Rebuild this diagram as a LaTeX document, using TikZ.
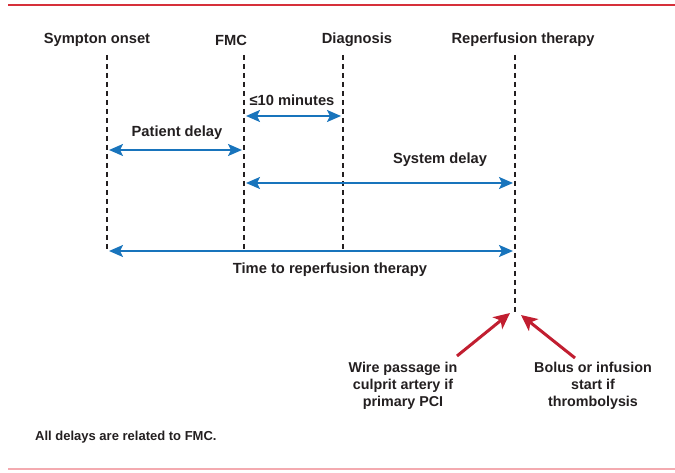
\documentclass[tikz,border=0pt]{standalone}
\usepackage{fontspec}
\setmainfont{Liberation Sans}
\usetikzlibrary{arrows.meta}
\definecolor{tlblue}{RGB}{24,116,188}
\definecolor{tlred}{RGB}{193,30,48}
\definecolor{rulered}{RGB}{214,48,58}
\definecolor{rulepink}{RGB}{244,170,176}
\definecolor{ink}{RGB}{35,31,32}
\begin{document}
\begin{tikzpicture}[x=1pt,y=-1pt,
  lbl/.style={font=\fontsize{14.7}{17}\selectfont\bfseries, text=ink, inner sep=0pt},
  sublbl/.style={lbl, align=center, font=\fontsize{14.3}{17.3}\selectfont\bfseries},
  guide/.style={draw=ink, line width=1.6pt, dash pattern=on 5pt off 4pt},
  span/.style={draw=tlblue, line width=2pt, {Stealth[length=14pt,width=12pt,inset=3pt]}-{Stealth[length=14pt,width=12pt,inset=3pt]}},
  hit/.style={draw=tlred, line width=3pt, -{Stealth[length=16pt,width=15pt,inset=4pt]}}]
\useasboundingbox (0,0) rectangle (675,473);
% frame rules
\draw[rulered, line width=1.5pt] (8,5) -- (675,5);
\draw[rulepink, line width=1.5pt] (8,469) -- (675,469);

% event headings
\node[lbl] (onset) at (97,40) {Sympton onset};
\node[lbl] (fmc) at (231,40) {FMC};
\node[lbl] (diag) at (357,40) {Diagnosis};
\node[lbl] (reperf) at (523,40) {Reperfusion therapy};

% timeline guides
\coordinate (onsetT) at (107,55);  \coordinate (onsetB) at (107,252);
\coordinate (fmcT) at (244,55);    \coordinate (fmcB) at (244,252);
\coordinate (diagT) at (343,55);   \coordinate (diagB) at (343,252);
\coordinate (repT) at (515,55);    \coordinate (repB) at (515,314);
\draw[guide] (onsetT) -- (onsetB);
\draw[guide] (fmcT) -- (fmcB);
\draw[guide] (diagT) -- (diagB);
\draw[guide] (repT) -- (repB);

% intervals
\coordinate (a1) at (246,116); \coordinate (b1) at (341,116);
\draw[span] (a1) -- (b1);
\node[lbl] (ten) at (292,100) {≤10 minutes};

\coordinate (a2) at (109,150); \coordinate (b2) at (242,150);
\draw[span] (a2) -- (b2);
\node[lbl] (pat) at (177,133) {Patient delay};

\coordinate (a3) at (246,183); \coordinate (b3) at (513,183);
\draw[span] (a3) -- (b3);
\node[lbl] (sys) at (440,160) {System delay};

\coordinate (a4) at (109,251); \coordinate (b4) at (513,251);
\draw[span] (a4) -- (b4);
\node[lbl] (total) at (330,270) {Time to reperfusion therapy};

% reperfusion markers
\node[sublbl] (pci) at (403,386) {Wire passage in\\culprit artery if\\primary PCI};
\node[sublbl] (lysis) at (593,386) {Bolus or infusion\\start if\\thrombolysis};
\coordinate (pciS) at (457,356); \coordinate (pciE) at (510,313);
\coordinate (lysS) at (575,358); \coordinate (lysE) at (521,315);
\draw[hit] (pciS) -- (pciE);
\draw[hit] (lysS) -- (lysE);

% footnote
\node[lbl, anchor=west, font=\fontsize{13}{15}\selectfont\bfseries] (note) at (35,437) {All delays are related to FMC.};
\end{tikzpicture}
\end{document}
